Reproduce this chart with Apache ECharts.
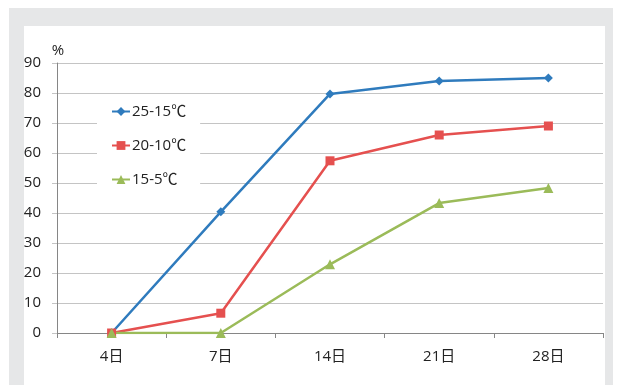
<!DOCTYPE html>
<html>
<head>
<meta charset="utf-8">
<script src="https://cdn.jsdelivr.net/npm/echarts@6/dist/echarts.min.js"></script>
<style>
  html, body { margin: 0; padding: 0; background: #fff; }
  #chart { width: 620px; height: 385px; }
</style>
</head>
<body>
<div id="chart"></div>
<script>
// Sampling days and germination percentage for each temperature regime
const days = ['4日', '7日', '14日', '21日', '28日'];
const seriesNames = ['25-15℃', '20-10℃', '15-5℃'];
const warm = [0, 40.4, 79.7, 84.0, 85.0];
const mild = [0, 6.6, 57.4, 66.0, 69.0];
const cool = [0, 0, 22.9, 43.3, 48.3];
const yTicks = { min: 0, max: 90, step: 10 };

const colors = ['#2f7bbd', '#e5504f', '#9bbb59'];
const font = '"Open Sans", "Noto Sans CJK SC", sans-serif';

const chart = echarts.init(document.getElementById('chart'), null, { renderer: 'canvas' });

function lineSeries(name, data, color, symbol, size) {
  return {
    name: name,
    type: 'line',
    data: data,
    symbol: symbol,
    symbolSize: size,
    lineStyle: { color: color, width: 2.5 },
    itemStyle: { color: color },
    emphasis: { disabled: true },
    animation: false
  };
}

chart.setOption({
  backgroundColor: '#fff',
  animation: false,
  color: colors,
  graphic: [
    { type: 'rect', z: -10, shape: { x: 9, y: 8, width: 604, height: 390 }, style: { fill: '#e6e7e8' } },
    { type: 'rect', z: -9, shape: { x: 24, y: 26, width: 581, height: 370 }, style: { fill: '#ffffff' } }
  ],
  grid: { left: 57, right: 17, top: 63, bottom: 52, containLabel: false },
  legend: {
    orient: 'vertical',
    left: 97,
    top: 95,
    padding: [9, 14, 11, 14],
    itemGap: 19,
    itemWidth: 18,
    itemHeight: 11,
    backgroundColor: '#ffffff',
    data: seriesNames,
    textStyle: { fontFamily: font, fontSize: 15, color: '#222', padding: [0, 0, 0, -3] },
    z: 10
  },
  xAxis: {
    type: 'category',
    data: days,
    boundaryGap: true,
    axisLine: { lineStyle: { color: '#868686', width: 1 } },
    axisTick: { show: true, length: 5, alignWithLabel: false, lineStyle: { color: '#868686' } },
    axisLabel: { fontFamily: font, fontSize: 15, color: '#222', margin: 16 },
    splitLine: { show: false }
  },
  yAxis: {
    type: 'value',
    min: yTicks.min,
    max: yTicks.max,
    interval: yTicks.step,
    name: '%',
    nameLocation: 'end',
    nameGap: 5,
    nameTextStyle: { fontFamily: font, fontSize: 15, color: '#222', align: 'center', padding: [0, 0, 0, 2] },
    axisLine: { show: true, lineStyle: { color: '#868686', width: 1 } },
    axisTick: { show: true, length: 5, lineStyle: { color: '#c4c4c4' } },
    axisLabel: { fontFamily: font, fontSize: 15, color: '#222', margin: 16 },
    splitLine: { show: true, lineStyle: { color: '#c4c4c4', width: 1 } }
  },
  series: [
    lineSeries(seriesNames[0], warm, colors[0], 'diamond', 9),
    lineSeries(seriesNames[1], mild, colors[1], 'rect', 9),
    lineSeries(seriesNames[2], cool, colors[2], 'triangle', 10)
  ]
});
</script>
</body>
</html>
